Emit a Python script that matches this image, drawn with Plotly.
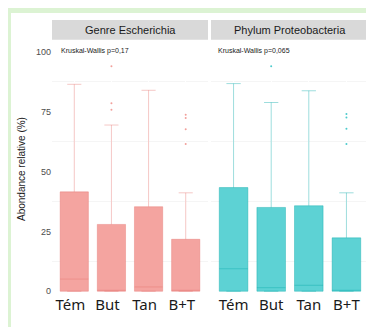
import plotly.graph_objects as go

W, H = 374, 327

categories = ["Tém", "But", "Tan", "B+T"]

# Genre Escherichia
esch_q1 = [0, 0, 0, 0]
esch_median = [5.1, 0.2, 1.8, 0]
esch_q3 = [41.5, 27.9, 35.3, 21.7]
esch_lower = [0, 0, 0, 0]
esch_upper = [86.4, 69.4, 83.9, 41.1]
esch_out_cat = ["But", "But", "But", "B+T", "B+T", "B+T", "B+T"]
esch_out_val = [93.9, 78.5, 75.8, 73.7, 72.3, 67.6, 61.5]

# Phylum Proteobacteria
prot_q1 = [0, 0, 0, 0]
prot_median = [9.4, 1.5, 2.5, 0]
prot_q3 = [43.3, 35.0, 35.7, 22.3]
prot_lower = [0, 0, 0, 0]
prot_upper = [86.7, 78.8, 83.7, 41.1]
prot_out_cat = ["But", "B+T", "B+T", "B+T", "B+T"]
prot_out_val = [93.9, 74.0, 72.5, 67.8, 61.5]

panel_titles = ["Genre Escherichia", "Phylum Proteobacteria"]
kw_texts = ["Kruskal-Wallis p=0,17", "Kruskal-Wallis p=0,065"]
y_ticks = [0, 25, 50, 75, 100]

salmon_fill = "#f4a4a0"
salmon_line = "rgba(230,110,105,0.38)"
teal_fill = "#5dd2d4"
teal_line = "rgba(10,170,170,0.4)"

fig = go.Figure()

fig.add_trace(go.Box(
    x=categories, q1=esch_q1, median=esch_median, q3=esch_q3,
    lowerfence=esch_lower, upperfence=esch_upper,
    fillcolor=salmon_fill, line=dict(color=salmon_line, width=1),
    width=0.76, boxpoints=False, xaxis="x", yaxis="y", showlegend=False,
    hoverinfo="skip"))
fig.add_trace(go.Scatter(
    x=esch_out_cat, y=esch_out_val, mode="markers",
    marker=dict(size=2, color="#f2a09b"), xaxis="x", yaxis="y",
    showlegend=False, hoverinfo="skip"))

fig.add_trace(go.Box(
    x=categories, q1=prot_q1, median=prot_median, q3=prot_q3,
    lowerfence=prot_lower, upperfence=prot_upper,
    fillcolor=teal_fill, line=dict(color=teal_line, width=1),
    width=0.76, boxpoints=False, xaxis="x2", yaxis="y2", showlegend=False,
    hoverinfo="skip"))
fig.add_trace(go.Scatter(
    x=prot_out_cat, y=prot_out_val, mode="markers",
    marker=dict(size=2, color="#4ccbcd"), xaxis="x2", yaxis="y2",
    showlegend=False, hoverinfo="skip"))

def px(x):
    return x / W

def py(y):
    return 1 - y / H

left_dom = [px(44), px(200)]
right_dom = [px(203), px(361)]
y_dom = [py(288), py(32)]
y_range = [-1.24, 104.98]

xfont = dict(family="Noto Sans", size=15, color="#1a1a1a")
common_x = dict(type="category", categoryorder="array", categoryarray=categories,
                range=[-0.6, 3.6], showgrid=True, gridcolor="white", gridwidth=1,
                zeroline=False, ticks="", tickfont=xfont, showline=False,
                fixedrange=True)
common_y = dict(range=y_range, showgrid=True, gridcolor="white", gridwidth=1.2,
                zeroline=False, tickvals=y_ticks, ticks="",
                minor=dict(dtick=12.5, tick0=0, showgrid=True, gridcolor="#f5f5f5", gridwidth=0.6),
                domain=y_dom, fixedrange=True)

fig.update_layout(
    width=W, height=H,
    margin=dict(l=0, r=0, t=0, b=0),
    paper_bgcolor="#dcf3d3",
    plot_bgcolor="#ebebeb",
    xaxis=dict(domain=left_dom, anchor="y", ticklabelshift=-4, **common_x),
    xaxis2=dict(domain=right_dom, anchor="y2", **common_x),
    yaxis=dict(anchor="x", showticklabels=True,
               tickfont=dict(family="Liberation Sans", size=9, color="#4d4d4d"),
               **common_y),
    yaxis2=dict(anchor="x2", matches="y", showticklabels=False, **common_y),
    shapes=[
        dict(type="rect", xref="paper", yref="paper", x0=px(3), x1=px(366),
             y0=py(323), y1=py(5), fillcolor="white", line=dict(width=0), layer="below"),
        dict(type="rect", xref="paper", yref="paper", x0=left_dom[0], x1=left_dom[1],
             y0=py(32), y1=py(12), fillcolor="#d9d9d9", line=dict(width=0)),
        dict(type="rect", xref="paper", yref="paper", x0=right_dom[0], x1=right_dom[1],
             y0=py(32), y1=py(12), fillcolor="#d9d9d9", line=dict(width=0)),
    ],
    annotations=[
        dict(text=panel_titles[0], xref="paper", yref="paper", x=(left_dom[0] + left_dom[1]) / 2,
             y=py(22), showarrow=False, xanchor="center", yanchor="middle",
             font=dict(family="Liberation Sans", size=11, color="#1a1a1a")),
        dict(text=panel_titles[1], xref="paper", yref="paper", x=(right_dom[0] + right_dom[1]) / 2,
             y=py(22), showarrow=False, xanchor="center", yanchor="middle",
             font=dict(family="Liberation Sans", size=11, color="#1a1a1a")),
        dict(text=kw_texts[0], xref="paper", yref="paper", x=px(51), y=py(43),
             showarrow=False, xanchor="left", yanchor="middle",
             font=dict(family="Liberation Sans", size=7, color="#1a1a1a")),
        dict(text=kw_texts[1], xref="paper", yref="paper", x=px(208), y=py(43),
             showarrow=False, xanchor="left", yanchor="middle",
             font=dict(family="Liberation Sans", size=7, color="#1a1a1a")),
        dict(text="Abondance relative (%)", xref="paper", yref="paper", x=px(13), y=py(162),
             showarrow=False, xanchor="center", yanchor="middle", textangle=-90,
             font=dict(family="Liberation Sans", size=10, color="#1a1a1a")),
    ],
)

fig.write_html("out.html")
